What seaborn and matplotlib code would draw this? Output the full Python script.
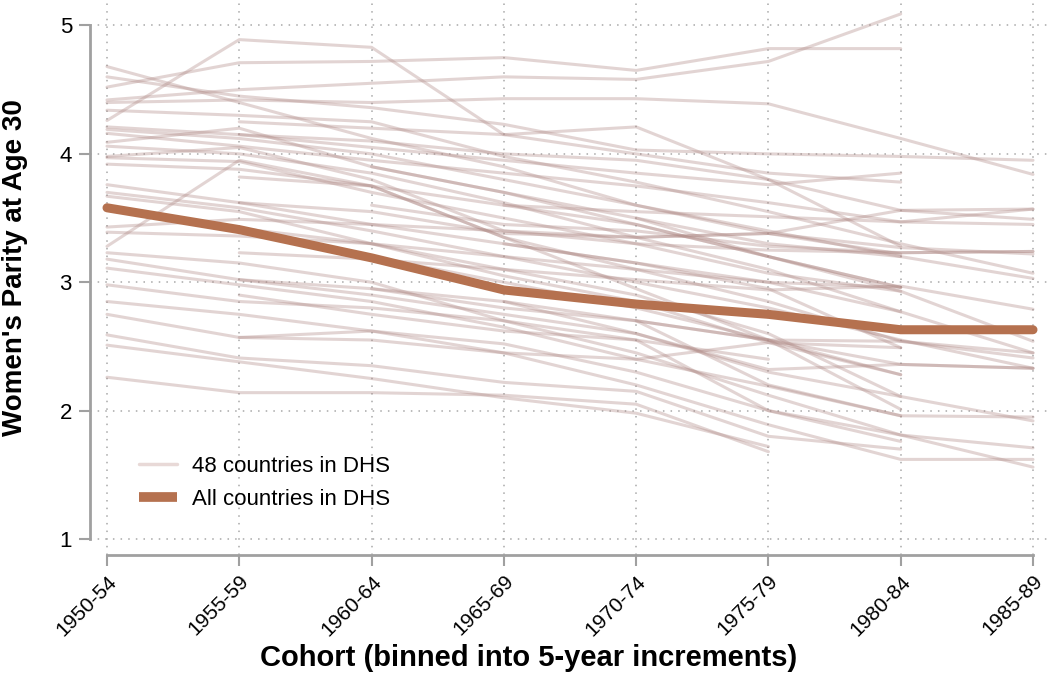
import numpy as np
import pandas as pd
import matplotlib
matplotlib.use('Agg')
import matplotlib.pyplot as plt
import seaborn as sns
from matplotlib.lines import Line2D

N = np.nan

cohorts = ['1950-54', '1955-59', '1960-64', '1965-69', '1970-74', '1975-79', '1980-84', '1985-89']

# all-country average (thick line)
all_countries = [3.58, 3.41, 3.19, 2.94, 2.83, 2.75, 2.63, 2.63]

# parity at age 30 per country (48 countries)
country_parity = [
    [4.26, 4.89, 4.83, 4.15, 4.21, 3.80, 3.28, N],
    [4.52, 4.71, 4.72, 4.75, 4.65, 4.82, 4.82, N],
    [4.42, 4.50, 4.55, 4.60, 4.58, 4.72, 5.09, N],
    [4.40, 4.42, 4.40, 4.43, 4.43, 4.39, 4.12, 3.84],
    [4.60, 4.45, 4.36, 4.23, 4.03, 4.00, 3.98, 3.95],
    [4.68, 4.40, 4.12, 3.90, 3.60, 3.38, 3.22, N],
    [4.34, 4.30, 4.25, 3.98, 3.78, 3.55, 3.30, 3.07],
    [4.21, 4.15, 4.10, 4.00, 3.95, 3.80, 3.56, 3.49],
    [4.19, 4.12, 4.00, 3.80, 3.60, 3.40, 3.20, 3.03],
    [4.16, 4.06, 3.95, 3.85, 3.75, 3.62, 3.47, 3.57],
    [4.09, 4.20, 3.90, 3.70, 3.45, 3.20, 2.96, N],
    [4.06, 4.00, 3.85, 3.62, 3.35, 3.10, 2.77, 2.45],
    [3.98, 4.05, 3.80, 3.40, 3.30, 3.25, 3.23, 3.24],
    [3.97, 3.94, 3.70, 3.50, 3.30, 3.07, 2.93, 2.54],
    [3.92, 3.88, 3.75, 3.35, 3.10, 2.85, 2.54, 2.41],
    [3.76, 3.62, 3.45, 3.30, 3.15, 2.95, 2.49, N],
    [3.70, 3.58, 3.40, 3.20, 3.00, 2.80, 2.55, 2.33],
    [3.67, 3.55, 3.30, 3.05, 2.85, 2.53, 2.28, N],
    [3.43, 3.49, 3.45, 3.40, 3.35, 3.38, 3.27, 3.22],
    [3.39, 3.36, 3.30, 3.10, 2.90, 2.60, 2.11, 1.92],
    [3.28, 3.95, 3.75, 3.35, 2.95, 2.55, 2.01, N],
    [3.23, 3.15, 3.00, 2.70, 2.45, 2.12, 1.81, 1.56],
    [3.18, 3.02, 2.90, 2.75, 2.60, 2.32, 2.36, 2.33],
    [3.11, 2.98, 2.85, 2.65, 2.40, 2.19, 1.96, 1.95],
    [2.98, 2.85, 2.80, 2.70, 2.55, 2.00, 1.76, N],
    [2.85, 2.75, 2.62, 2.45, 2.20, 1.89, 1.62, 1.62],
    [2.75, 2.57, 2.62, 2.52, 2.30, 2.00, 1.81, 1.71],
    [2.59, 2.41, 2.35, 2.22, 2.15, 1.80, 1.70, N],
    [2.51, 2.38, 2.25, 2.10, 1.98, 1.72, N, N],
    [2.26, 2.14, 2.14, 2.12, 2.05, 1.68, N, N],
    [N, 4.25, 4.20, 4.15, 4.00, 3.85, 3.78, N],
    [N, 4.15, 4.05, 3.95, 3.85, 3.76, 3.85, N],
    [N, 3.82, 3.75, 3.60, 3.55, 3.51, 3.47, 3.45],
    [N, 3.62, 3.55, 3.38, 3.35, 3.38, 3.56, 3.57],
    [N, 3.23, 3.18, 3.10, 3.02, 2.94, 2.97, 2.79],
    [N, 3.02, 2.95, 2.80, 2.70, 2.55, 2.54, 2.45],
    [N, 2.57, 2.55, 2.45, 2.40, 2.53, 2.49, N],
    [N, N, 3.90, 3.70, 3.50, 3.20, 2.96, N],
    [N, N, 3.60, 3.45, 3.40, 3.28, 3.23, 3.24],
    [N, N, 3.20, 3.00, 2.80, 2.55, 2.28, N],
    [N, N, 2.95, 2.85, 2.70, 2.55, 2.36, 2.33],
    [N, N, N, 3.60, 3.45, 3.20, 2.93, N],
    [N, N, N, 3.30, 3.15, 3.00, 2.77, N],
    [N, N, N, 2.85, 2.60, 2.30, 2.11, N],
    [N, N, N, N, 3.50, 3.30, 3.20, N],
    [N, N, N, N, 2.70, 2.20, 1.96, N],
    [N, 3.42, 3.30, 3.20, 3.10, 3.00, 2.96, N],
    [N, 2.90, 2.75, 2.62, 2.55, 2.40, N, N],
]

rows = []
for c, vals in enumerate(country_parity):
    for i, v in enumerate(vals):
        if not np.isnan(v):
            rows.append({'country': c, 'cohort': i, 'parity': v})
df = pd.DataFrame(rows)
df_all = pd.DataFrame({'cohort': range(len(cohorts)), 'parity': all_countries})

sns.set_theme(style='white')
plt.rcParams['font.family'] = ['Liberation Sans', 'DejaVu Sans']
plt.rcParams['text.color'] = 'black'
plt.rcParams['axes.labelcolor'] = 'black'

fig = plt.figure(figsize=(10.5, 6.74), dpi=100)
ax = fig.add_axes([90 / 1050, 1 - 555 / 674, 960 / 1050, 555 / 674])

sns.lineplot(data=df, x='cohort', y='parity', units='country', estimator=None,
             color='#b08a86', alpha=0.36, linewidth=2.2, ax=ax, legend=False)
sns.lineplot(data=df_all, x='cohort', y='parity', color='#b5714f',
             linewidth=6.5, ax=ax, legend=False)

ax.set_xlim(-17 / 132.3, 7 + 17 / 132.3)
ax.set_ylim(1 - 16 / 128.4, 5 + 25.5 / 128.4)
ax.set_xticks(range(len(cohorts)))
ax.set_xticklabels(cohorts, rotation=45, ha='right', rotation_mode='anchor', fontsize=15)
ax.set_yticks([1, 2, 3, 4, 5])
ax.set_yticklabels(['1', '2', '3', '4', '5'], fontsize=16)

ax.grid(True, linestyle=(0, (1, 4)), color='#a8a8a8', linewidth=1.1)
for s in ['top', 'right']:
    ax.spines[s].set_visible(False)
ax.spines['left'].set_bounds(1, 5)
ax.spines['bottom'].set_bounds(0, 7)
for s in ['left', 'bottom']:
    ax.spines[s].set_color('#a0a0a0')
    ax.spines[s].set_linewidth(2)
ax.tick_params(axis='both', length=8, width=1.5, color='#a0a0a0', left=True, bottom=True,
               labelcolor='black')
ax.tick_params(axis='x', pad=4)
ax.tick_params(axis='y', pad=5)

ax.set_xlabel('')
ax.set_ylabel("Women's Parity at Age 30", fontsize=20, fontweight='bold', color='black')
ax.yaxis.set_label_coords((28 - 90) / 960, (555 - 268) / 555)
fig.text(529 / 1050, 1 - 658 / 674, 'Cohort (binned into 5-year increments)',
         fontsize=21, fontweight='bold', ha='center', va='center', color='black')

handles = [Line2D([], [], color='#e8d9d7', linewidth=2.5),
           Line2D([], [], color='#b5714f', linewidth=7, solid_capstyle='butt')]
ax.legend(handles, ['48 countries in DHS', 'All countries in DHS'], loc='lower left',
          bbox_to_anchor=(0.03, 0.045), frameon=False, fontsize=16, handlelength=1.7,
          handletextpad=0.7, labelspacing=0.55, labelcolor='black')

fig.savefig('out.png', dpi=100)
